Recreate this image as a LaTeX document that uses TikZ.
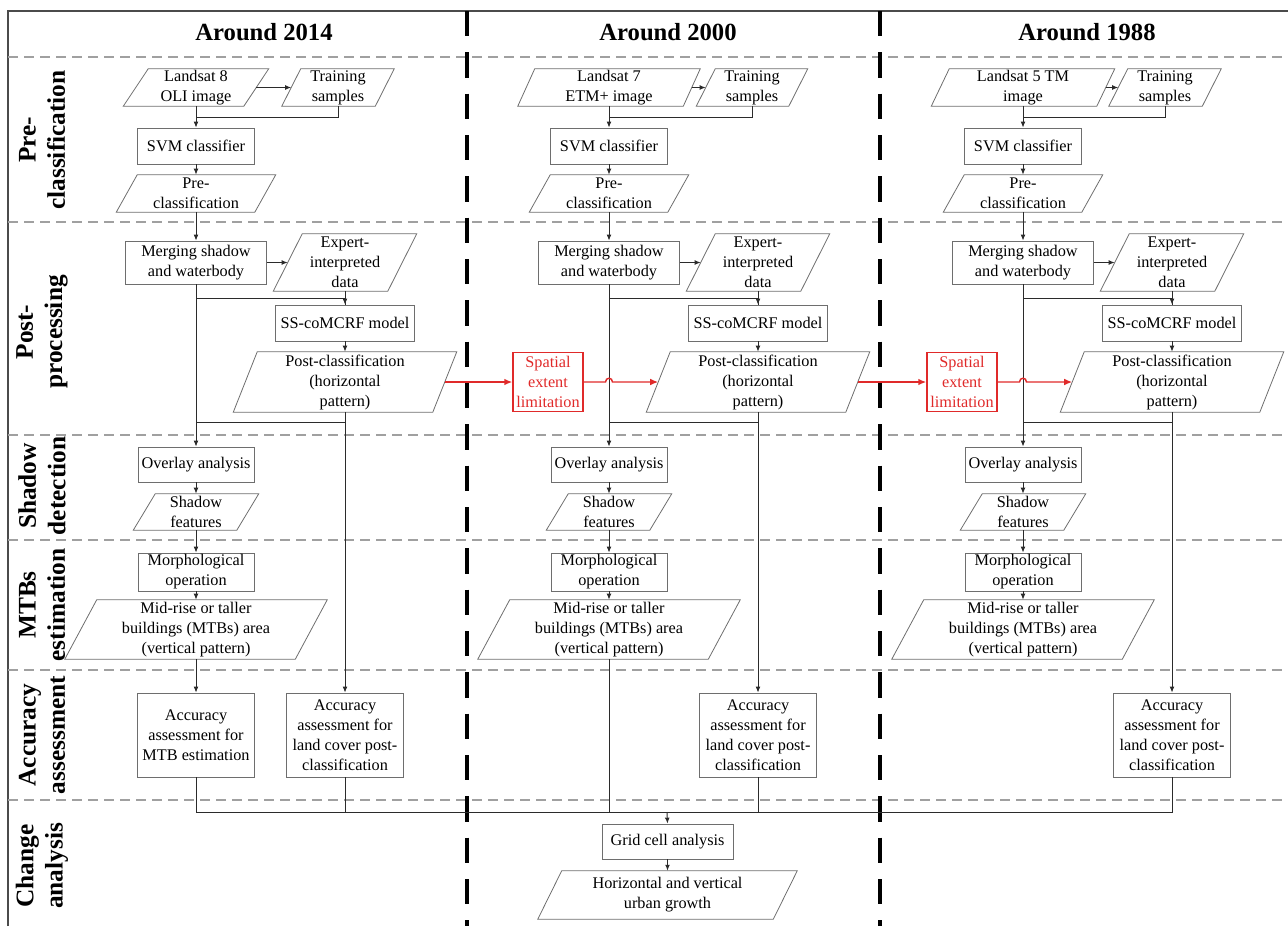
\documentclass[tikz,border=0pt]{standalone}
\usepackage{fontspec}
\setmainfont{Liberation Serif}
\usetikzlibrary{arrows.meta,calc}
\definecolor{boxgray}{HTML}{6E6E6E}
\definecolor{linec}{HTML}{2B2B2B}
\definecolor{sepgray}{HTML}{A0A0A0}
\definecolor{redc}{HTML}{E02A2A}
\newcommand{\plgram}[6][24]{%
  \node[ptext, wh={#4}{#5}] (#2) at #3 {#6};
  \draw[boxgray, line width=0.6pt] ($(#2.north west)+(#1/2,0)$) -- ($(#2.north east)+(#1/2,0)$) -- ($(#2.south east)-(#1/2,0)$) -- ($(#2.south west)-(#1/2,0)$) -- cycle;
}
\begin{document}
\begin{tikzpicture}[x=0.75pt,y=-0.75pt,
  font=\fontsize{12.2}{15}\selectfont,
  box/.style={draw=boxgray, line width=0.6pt, inner sep=0pt, align=center},
  ptext/.style={inner sep=0pt, align=center},
  redbox/.style={draw=redc, line width=1.1pt, inner sep=0pt, align=center, text=redc},
  wh/.style 2 args={minimum width={#1*0.75pt}, minimum height={#2*0.75pt}},
  conn/.style={draw=linec, line width=0.7pt},
  arr/.style={conn, -{Latex[length=4.5pt,width=3.6pt]}},
  redarr/.style={draw=redc, line width=1.1pt, -{Latex[length=6pt,width=5pt]}},
  sep/.style={draw=sepgray, line width=1.1pt, dash pattern=on 7.5pt off 4.5pt},
  divider/.style={draw=black, line width=3pt, dash pattern=on 19pt off 12pt},
  header/.style={font=\fontsize{18.5}{22}\selectfont\bfseries},
  rowlab/.style={rotate=90, align=center, font=\fontsize{19}{22}\selectfont\bfseries}
]
\useasboundingbox (0,0) rectangle (1288,926);

% frame and separators
\draw[draw=linec!85, line width=1.3pt] (8,926) -- (8,11) -- (1288,11);
\foreach \yy in {57,222,435,540,670,800}{
  \draw[sep] (8,\yy) -- (1288,\yy);
}
\draw[divider] (467,11) -- (467,926);
\draw[divider] (880,11) -- (880,926);

% headers
\node[header] (h1) at (264,32) {Around 2014};
\node[header] (h2) at (668,32) {Around 2000};
\node[header] (h3) at (1087,32) {Around 1988};

% row labels
\node[rowlab] (r1) at (42,140) {Pre-\\classification};
\node[rowlab] (r2) at (42,332) {Post-\\processing};
\node[rowlab] (r3) at (42,486) {Shadow\\detection};
\node[rowlab] (r4) at (42,605) {MTBs\\estimation};
\node[rowlab] (r5) at (42,735) {Accuracy\\assessment};
\node[rowlab] (r6) at (42,866) {Change\\analysis};

% input rows
\plgram[25]{a-ls}{(196,87.5)}{120}{37}{Landsat 8\\OLI image}
\plgram[19]{a-tr}{(338,87.5)}{93}{37}{Training\\samples}
\plgram[17]{b-ls}{(609,87.5)}{165}{37}{Landsat 7\\ETM+ image}
\plgram[19]{b-tr}{(752,87.5)}{92}{37}{Training\\samples}
\plgram[18]{c-ls}{(1023,87.5)}{165}{37}{Landsat 5 TM\\image}
\plgram[19]{c-tr}{(1165,87.5)}{93}{37}{Training\\samples}

% common column content
\foreach \pp/\cx in {a/196,b/609,c/1023}{
  \node[box, wh={117}{36}] (\pp-svm) at (\cx,146) {SVM classifier};
  \plgram[21]{\pp-pre}{(\cx,193.5)}{138}{37}{Pre-\\classification}
  \node[box, wh={141}{43}] (\pp-merge) at (\cx,262.5) {Merging shadow\\and waterbody};
  \plgram[29]{\pp-exp}{(\cx+149,262.5)}{114}{57}{Expert-\\interpreted\\data}
  \node[box, wh={139}{36}] (\pp-ss) at (\cx+149,323) {SS-coMCRF model};
  \plgram[24]{\pp-post}{(\cx+149,382)}{199}{60}{Post-classification\\(horizontal\\pattern)}
  \node[box, wh={116}{35}] (\pp-ov) at (\cx,464.5) {Overlay analysis};
  \plgram[22]{\pp-sh}{(\cx,512)}{103}{36}{Shadow\\features}
  \node[box, wh={116}{38}] (\pp-mo) at (\cx,572) {Morphological\\operation};
  \plgram[32]{\pp-mid}{(\cx,629.5)}{230}{59}{Mid-rise or taller\\buildings (MTBs) area\\(vertical pattern)}
  \node[box, wh={117}{84}] (\pp-acc) at (\cx+149,735) {Accuracy\\assessment for\\land cover post-\\classification};
  % connectors
  \draw[arr] (\pp-ls.east) -- (\pp-tr.west);
  \draw[arr] (\pp-ls.south) -- (\pp-svm.north);
  \draw[conn] (\pp-tr.south) |- ($(\pp-ls.south)+(0,11)$);
  \draw[arr] (\pp-svm.south) -- (\pp-pre.north);
  \draw[arr] (\pp-pre.south) -- (\pp-merge.north);
  \draw[arr] (\pp-merge.east) -- (\pp-exp.west);
  \draw[conn] ($(\pp-merge.south)+(0,14)$) -| (\pp-ss.north);
  \draw[arr] (\pp-exp.south) -- (\pp-ss.north);
  \draw[arr] (\pp-ss.south) -- (\pp-post.north);
  \draw[arr] (\pp-merge.south) -- (\pp-ov.north);
  \draw[conn] (\pp-post.south) |- ($(\pp-merge.south)+(0,138)$);
  \draw[arr] (\pp-post.south) -- (\pp-acc.north);
  \draw[arr] (\pp-ov.south) -- (\pp-sh.north);
  \draw[arr] (\pp-sh.south) -- (\pp-mo.north);
  \draw[arr] (\pp-mo.south) -- (\pp-mid.north);
}

% MTB accuracy (2014)
\node[box, wh={117}{84}] (a-accm) at (196,735) {Accuracy\\assessment for\\MTB estimation};
\draw[arr] (a-mid.south) -- (a-accm.north);

% red spatial extent limitation
\node[redbox, wh={70}{59}] (red1) at (548,382) {Spatial\\extent\\limitation};
\node[redbox, wh={70}{59}] (red2) at (962,382) {Spatial\\extent\\limitation};
\coordinate (hop1) at (609,382);
\coordinate (hop2) at (1023,382);
\draw[redarr] (a-post.east) -- (red1.west);
\draw[redarr] (red1.east) -- ($(hop1)+(-3.5,0)$) .. controls ($(hop1)+(-3.5,-5)$) and ($(hop1)+(3.5,-5)$) .. ($(hop1)+(3.5,0)$) -- (b-post.west);
\draw[redarr] (b-post.east) -- (red2.west);
\draw[redarr] (red2.east) -- ($(hop2)+(-3.5,0)$) .. controls ($(hop2)+(-3.5,-5)$) and ($(hop2)+(3.5,-5)$) .. ($(hop2)+(3.5,0)$) -- (c-post.west);

% change analysis
\coordinate (bus) at (667,812);
\draw[conn] (a-accm.south) |- (c-acc.south |- bus) -- (c-acc.south);
\draw[conn] (a-acc.south) -- (a-acc.south |- bus);
\draw[conn] (b-mid.south) -- (b-mid.south |- bus);
\draw[conn] (b-acc.south) -- (b-acc.south |- bus);
\node[box, wh={131}{35}] (grid) at (667.5,841.5) {Grid cell analysis};
\draw[arr] (bus) -- (grid.north);
\plgram[24]{urb}{(667.5,895)}{235}{48}{Horizontal and vertical\\urban growth}
\draw[arr] (grid.south) -- (urb.north);
\end{tikzpicture}
\end{document}
